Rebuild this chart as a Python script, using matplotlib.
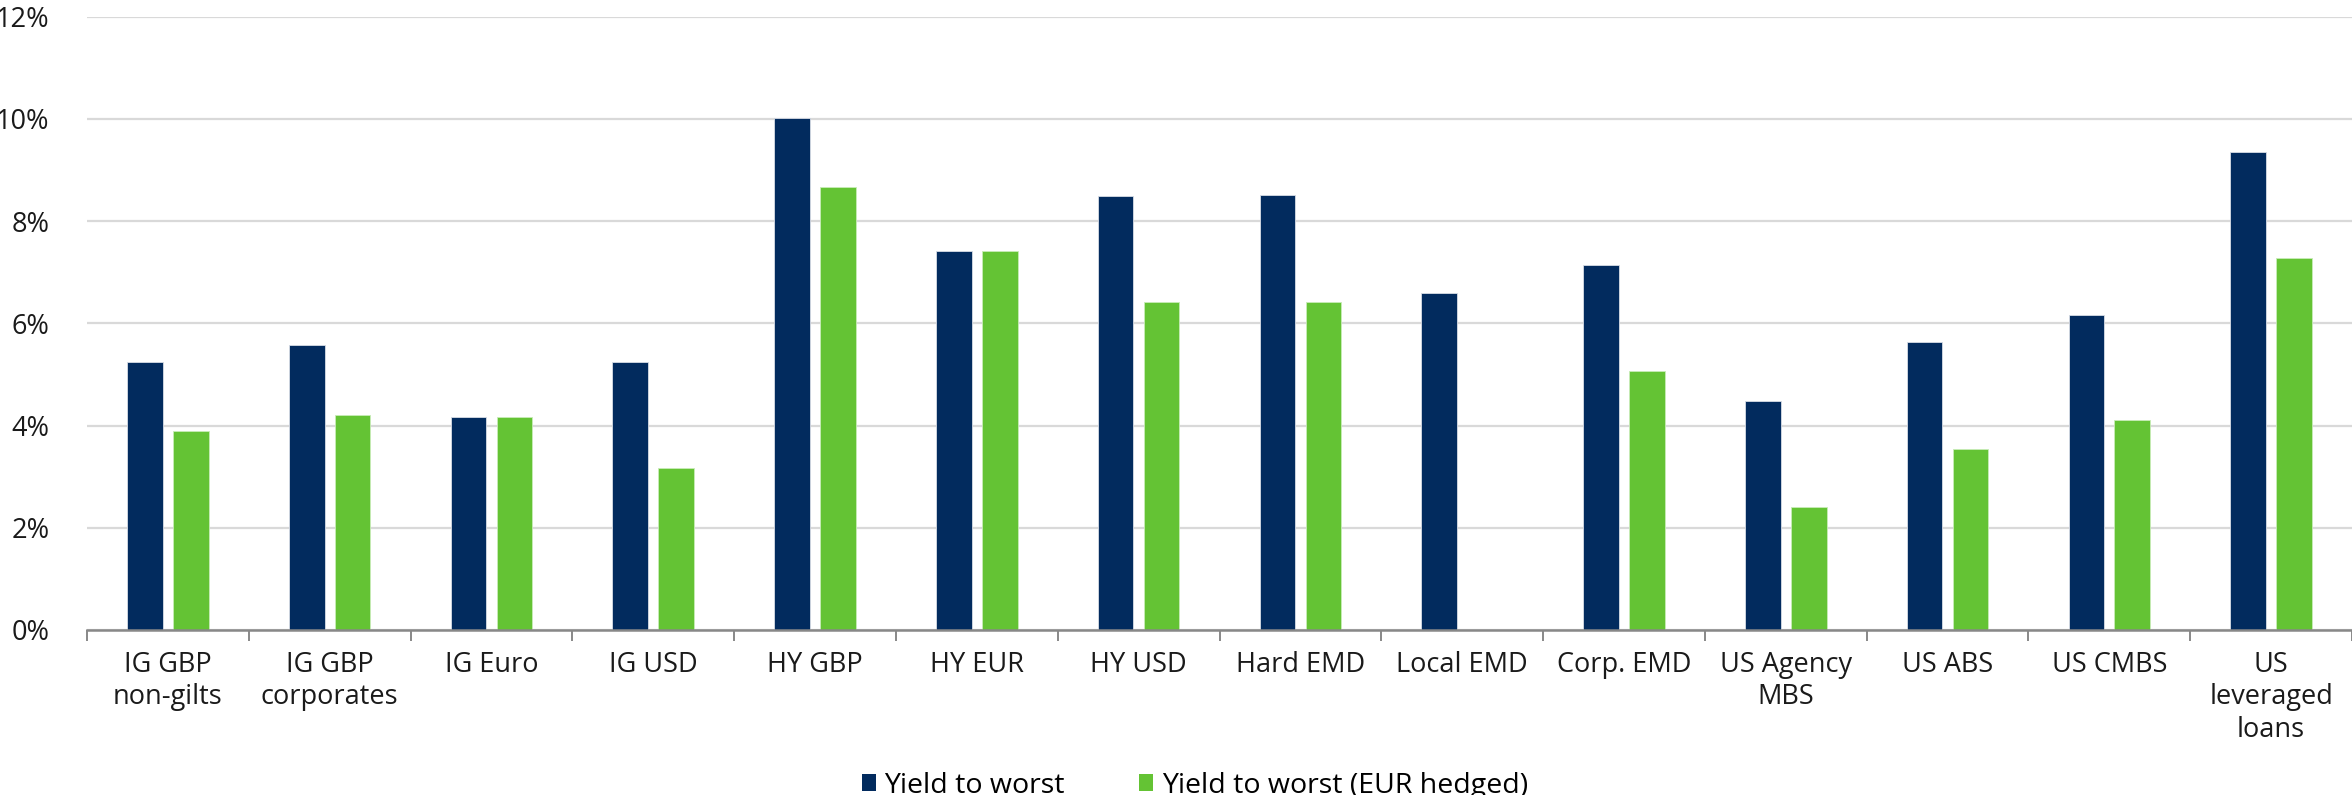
import numpy as np
import matplotlib
matplotlib.use("Agg")
import matplotlib.pyplot as plt
from matplotlib.ticker import FixedLocator, FuncFormatter

plt.rcParams['font.family'] = ['Open Sans', 'DejaVu Sans']

categories = ["IG GBP\nnon-gilts", "IG GBP\ncorporates", "IG Euro", "IG USD", "HY GBP",
              "HY EUR", "HY USD", "Hard EMD", "Local EMD", "Corp. EMD",
              "US Agency\nMBS", "US ABS", "US CMBS", "US\nleveraged\nloans"]
yield_to_worst = [5.24, 5.57, 4.16, 5.24, 10.01, 7.41, 8.49, 8.51, 6.59, 7.14, 4.48, 5.63, 6.17, 9.34]
yield_to_worst_eur = [3.90, 4.21, 4.16, 3.17, 8.67, 7.41, 6.41, 6.41, np.nan, 5.07, 2.40, 3.55, 4.10, 7.27]
series_names = ["Yield to worst", "Yield to worst (EUR hedged)"]
yticks = [0, 2, 4, 6, 8, 10, 12]

navy = "#022B5E"
green = "#64C334"

fig = plt.figure(figsize=(23.52, 7.95), dpi=100)
ax = fig.add_axes([87/2352, 1 - 630/795, 1 - 87/2352, (630 - 16.5)/795])

x = np.arange(len(categories))
w = 0.22
off = 0.142
ax.bar(x - off, yield_to_worst, width=w, color=navy, label=series_names[0], zorder=3,
       edgecolor="#d8dde6", linewidth=0.6)
ax.bar(x + off, yield_to_worst_eur, width=w, color=green, label=series_names[1], zorder=3,
       edgecolor="#c8ecb8", linewidth=0.6)

ax.set_xlim(-0.5, len(categories) - 0.5)
ax.set_ylim(0, 12)
ax.yaxis.set_major_locator(FixedLocator(yticks))
ax.yaxis.set_major_formatter(FuncFormatter(lambda v, p: f"{v:.0f}%"))
ax.grid(axis='y', color='#d9d9d9', linewidth=1.6, zorder=0)
ax.set_axisbelow(True)

ax.set_xticks(x)
ax.set_xticklabels(categories, fontsize=19.5, color="#1a1a1a", linespacing=1.22)
ax.set_xticks(np.arange(-0.5, len(categories), 1.0), minor=True)
ax.tick_params(axis='x', which='major', length=0, pad=15)
ax.tick_params(axis='x', which='minor', length=8, width=1.4, color='#888888')
ax.tick_params(axis='y', length=0, pad=27, labelsize=19.5, labelcolor="#1a1a1a")

for s in ['top', 'right', 'left']:
    ax.spines[s].set_visible(False)
ax.spines['bottom'].set_color('#888888')
ax.spines['bottom'].set_linewidth(1.8)
ax.spines['bottom'].set_zorder(4)

handles, labels = ax.get_legend_handles_labels()
leg = fig.legend(handles, labels, loc='lower center', bbox_to_anchor=(0.508, -0.038), ncol=2,
                 frameon=False, fontsize=20.5, handlelength=0.5, handleheight=0.55,
                 handletextpad=0.3, columnspacing=2.6)
for h in leg.legend_handles:
    h.set_edgecolor('none')

fig.savefig("out.png", dpi=100)
